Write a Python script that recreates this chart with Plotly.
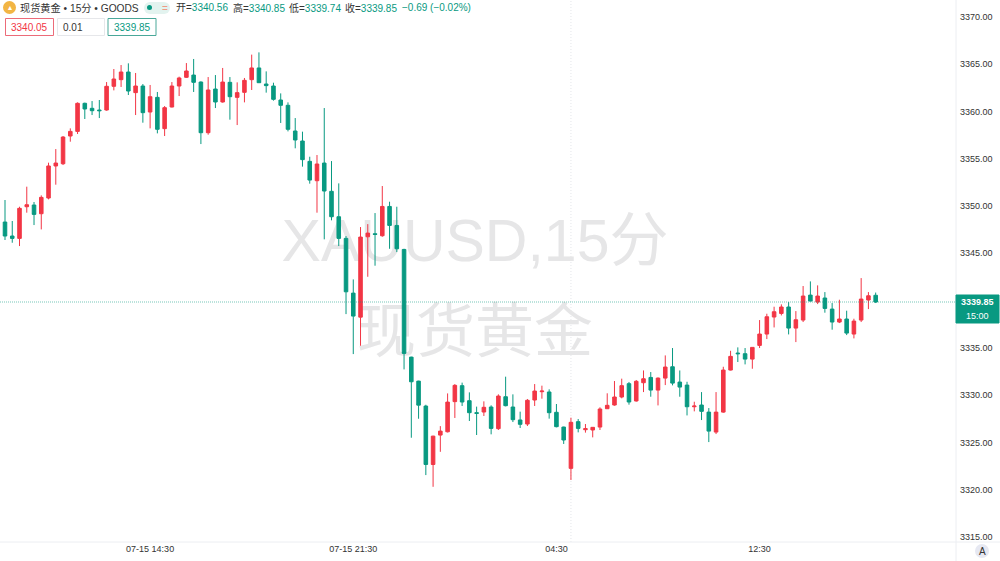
import plotly.graph_objects as go

# 15-minute spot gold bars
opens = [3348.31,3346.83,3346.58,3349.93,3350.11,3349.19,3350.85,3354.24,3354.48,3357.41,
3357.90,3360.87,3360.34,3360.16,3360.16,3362.67,3363.37,3364.18,3362.00,3362.70,
3359.95,3361.50,3358.19,3360.48,3362.70,3363.62,3363.86,3363.12,3357.76,3362.38,
3361.01,3363.09,3361.50,3362.03,3363.37,3364.61,3362.91,3362.70,3361.22,3360.66,
3357.94,3356.88,3354.73,3352.68,3354.55,3351.56,3348.87,3346.58,3340.79,3338.25,
3346.75,3347.07,3346.86,3349.96,3347.95,3345.41,3334.02,3331.48,3328.84,3322.66,
3325.77,3326.12,3329.31,3331.00,3329.41,3328.14,3328.21,3328.74,3326.45,3329.83,
3328.74,3327.37,3326.94,3329.48,3330.36,3330.33,3328.18,3326.62,3322.25,3327.19,
3326.34,3326.31,3326.62,3328.56,3328.95,3329.80,3331.21,3329.38,3331.31,3331.87,
3330.53,3331.80,3333.00,3331.38,3331.06,3328.77,3328.95,3328.20,3326.09,3328.20,
3332.65,3334.45,3334.38,3333.81,3335.26,3336.46,3338.26,3338.64,3339.32,3337.09,
3337.94,3340.58,3339.84,3340.27,3339.10,3337.73,3338.05,3336.46,3337.94,3340.06,
3340.56]
highs = [3350.64,3348.42,3349.93,3352.05,3350.43,3351.13,3354.59,3356.03,3357.41,3358.22,
3360.97,3360.94,3361.11,3361.22,3363.12,3364.50,3364.92,3365.10,3364.08,3362.91,
3362.81,3362.07,3360.58,3363.12,3363.69,3365.13,3365.56,3363.19,3363.65,3363.86,
3364.61,3363.65,3363.09,3363.55,3366.02,3366.26,3364.25,3363.05,3361.92,3360.97,
3359.31,3357.87,3355.22,3355.40,3360.37,3354.76,3352.40,3346.82,3342.24,3347.78,
3348.09,3349.26,3352.12,3350.46,3349.93,3345.48,3334.06,3331.52,3328.98,3325.70,
3326.72,3330.18,3331.17,3331.32,3330.29,3328.78,3329.34,3328.92,3330.08,3331.95,
3330.08,3328.25,3329.59,3331.17,3331.00,3330.61,3329.06,3326.66,3327.61,3327.47,
3326.94,3326.59,3328.71,3330.19,3331.49,3331.74,3331.39,3331.60,3332.61,3332.44,
3331.87,3334.20,3334.98,3332.61,3331.41,3329.30,3330.32,3328.63,3330.32,3333.00,
3334.69,3335.05,3334.98,3335.05,3337.94,3338.61,3339.35,3339.60,3339.84,3338.89,
3341.54,3342.03,3341.61,3340.90,3339.74,3340.09,3338.93,3338.08,3342.38,3340.90,
3340.85]
lows = [3346.41,3346.12,3345.77,3349.30,3347.99,3347.53,3350.71,3352.26,3354.34,3356.81,
3357.62,3359.21,3359.63,3359.31,3360.09,3362.24,3362.60,3361.75,3359.63,3358.82,
3358.22,3357.69,3357.41,3360.44,3361.64,3363.55,3362.07,3356.56,3357.55,3360.37,
3360.94,3359.14,3358.57,3360.97,3362.28,3363.05,3362.00,3361.15,3358.79,3357.90,
3356.11,3354.17,3352.37,3349.30,3346.48,3348.49,3345.77,3338.57,3334.34,3335.22,
3342.52,3343.69,3346.75,3345.48,3345.13,3332.72,3325.49,3327.50,3321.54,3320.30,
3324.00,3326.05,3327.58,3328.85,3327.26,3325.78,3327.79,3325.85,3326.31,3328.81,
3327.15,3326.52,3326.73,3328.85,3329.62,3327.51,3326.59,3324.83,3321.02,3326.06,
3326.03,3325.53,3326.31,3328.53,3328.88,3329.66,3328.99,3329.31,3330.32,3329.83,
3328.91,3331.06,3331.03,3329.83,3327.85,3328.28,3327.36,3325.03,3325.88,3328.13,
3332.61,3333.50,3333.25,3332.79,3334.98,3335.93,3337.16,3338.43,3336.42,3335.61,
3337.73,3339.92,3339.63,3338.72,3336.92,3337.62,3336.35,3336.00,3337.73,3339.10,
3339.74]
closes = [3346.83,3346.58,3349.76,3350.14,3349.12,3350.92,3354.24,3354.55,3357.30,3357.90,
3360.87,3360.27,3360.09,3360.09,3362.67,3363.44,3364.18,3362.17,3362.70,3359.88,
3361.57,3358.12,3360.41,3362.70,3363.55,3364.29,3363.09,3357.76,3362.28,3361.01,
3363.12,3361.57,3362.00,3363.30,3364.61,3363.05,3362.74,3361.29,3360.66,3358.12,
3356.99,3354.91,3352.75,3354.45,3351.59,3348.87,3346.58,3340.93,3338.36,3346.72,
3347.14,3347.00,3349.96,3347.95,3345.48,3334.41,3331.41,3328.94,3322.66,3325.66,
3326.19,3329.26,3331.03,3329.27,3328.14,3328.07,3328.71,3326.48,3329.90,3328.88,
3327.40,3326.91,3329.45,3330.43,3330.43,3328.14,3326.66,3325.25,3327.12,3326.48,
3326.45,3326.59,3328.53,3328.92,3329.80,3331.00,3329.27,3331.46,3331.73,3330.53,
3331.80,3332.97,3331.27,3330.85,3328.77,3328.84,3328.28,3326.19,3328.20,3332.65,
3334.10,3334.38,3333.81,3335.05,3336.46,3338.29,3338.82,3339.32,3337.09,3337.97,
3340.48,3339.95,3340.48,3339.17,3337.73,3338.05,3336.56,3337.83,3340.16,3340.51,
3339.85]
bar_numbers = list(range(len(opens)))

time_tick_bars = [20, 48, 76, 104]
time_tick_labels = ["07-15 14:30", "07-15 21:30", "04:30", "12:30"]
price_ticks = [3315, 3320, 3325, 3330, 3335, 3345, 3350, 3355, 3360, 3365, 3370]
price_tick_labels = ["%.2f" % p for p in price_ticks]
last_price = 3339.85
crosshair_bar = 78

UP = "#F23645"
DOWN = "#089981"
FONT = "Liberation Sans, Noto Sans CJK SC, sans-serif"
W, H = 1000, 561
AXIS_X, AXIS_Y = 956, 542


def px(x):
    return x / W


def py(y):
    return 1 - y / H


fig = go.Figure()
# watermark on the base axes so the candles stay above it
fig.add_trace(go.Scatter(
    x=[0.4969, 0.4969], y=[0.5465, 0.3775], mode="text",
    text=["XAUUSD,15分", "现货黄金"], textposition="middle center",
    textfont=dict(family=FONT, size=59, color="#e6e6e7"),
    hoverinfo="skip", showlegend=False, xaxis="x", yaxis="y"))
fig.add_trace(go.Candlestick(
    x=bar_numbers, open=opens, high=highs, low=lows, close=closes,
    increasing=dict(line=dict(color=UP, width=1), fillcolor=UP),
    decreasing=dict(line=dict(color=DOWN, width=1), fillcolor=DOWN),
    whiskerwidth=0, showlegend=False, xaxis="x2", yaxis="y2"))

shapes = [
    dict(type="line", xref="x2", yref="paper", x0=crosshair_bar, x1=crosshair_bar,
         y0=py(AXIS_Y), y1=1, line=dict(color="#e4e6ea", width=1, dash="1px,2px"), layer="below"),
    dict(type="line", xref="paper", yref="y2", x0=0, x1=px(AXIS_X), y0=last_price, y1=last_price,
         line=dict(color="rgba(8,153,129,0.55)", width=1, dash="1px,1px")),
    dict(type="line", xref="paper", yref="paper", x0=px(AXIS_X), x1=px(AXIS_X), y0=0, y1=1,
         line=dict(color="#eceef2", width=1)),
    dict(type="line", xref="paper", yref="paper", x0=0, x1=1, y0=py(AXIS_Y), y1=py(AXIS_Y),
         line=dict(color="#eceef2", width=1)),
]


def box(x0, y0, x1, y1, line, fill="#ffffff"):
    shapes.append(dict(type="rect", xref="paper", yref="paper", x0=px(x0), x1=px(x1),
                       y0=py(y1), y1=py(y0), line=dict(color=line, width=1), fillcolor=fill))


def circle(x0, y0, x1, y1, fill):
    shapes.append(dict(type="circle", xref="paper", yref="paper", x0=px(x0), x1=px(x1),
                       y0=py(y1), y1=py(y0), line=dict(width=0), fillcolor=fill))


box(5.5, 18.5, 53.5, 35.5, "#ec6b79")
box(57.5, 18.5, 104.5, 35.5, "#e6e7ea")
box(108, 18.5, 156, 35.5, "#4aa899")
box(956, 295, 999, 323, DOWN, DOWN)
circle(3, 1, 16, 14, "#f2b544")
circle(144, 2, 156, 14, "#e3f3ef")
circle(158, 2, 170, 14, "#e3f3ef")
shapes.append(dict(type="rect", xref="paper", yref="paper", x0=px(150), x1=px(164),
                   y0=py(14), y1=py(2), line=dict(width=0), fillcolor="#e3f3ef"))
circle(147, 5, 152, 10, DOWN)
circle(975, 544, 989, 558, "#e6e8f2")


def label(x, y, text, color="#333333", size=10, anchor="left"):
    fig.add_annotation(xref="paper", yref="paper", x=px(x), y=py(y), text=text,
                       showarrow=False, xanchor=anchor, yanchor="middle",
                       font=dict(family=FONT, size=size, color=color),
                       borderpad=0, borderwidth=0)


label(20, 7.5, "现货黄金 • 15分 • GOODS", size=10.2)
label(162, 8, "=", color="#ee9a85", size=10)
label(9.5, 7.5, "▴", color="#ffffff", size=8, anchor="center")
readout = [("开=", "3340.56", 176), ("高=", "3340.85", 233), ("低=", "3339.74", 289), ("收=", "3339.85", 345)]
for tag, value, x in readout:
    label(x, 7.5, '%s<span style="color:%s">%s</span>' % (tag, DOWN, value))
label(401.5, 7.5, "−0.69 (−0.02%)", color=DOWN)
label(29.5, 27.5, "3340.05", color=UP, anchor="center")
label(63, 27.5, "0.01", color="#333333")
label(132, 27.5, "3339.85", color=DOWN, anchor="center")
label(977.5, 302, "<b>3339.85</b>", color="#ffffff", size=9, anchor="center")
label(977.5, 316, "15:00", color="#ffffff", size=9, anchor="center")
label(982, 551.5, "A", color="#333333", size=10, anchor="center")

fig.update_layout(
    width=W, height=H, autosize=False,
    margin=dict(l=0, r=0, t=0, b=0, pad=0),
    paper_bgcolor="#ffffff", plot_bgcolor="#ffffff",
    showlegend=False, shapes=shapes, hovermode=False,
    font=dict(family=FONT, size=9, color="#333333"),
    xaxis=dict(domain=[0, AXIS_X / W], range=[0, 1], visible=False, fixedrange=True),
    yaxis=dict(domain=[1 - AXIS_Y / H, 1], range=[0, 1], visible=False, fixedrange=True),
    xaxis2=dict(overlaying="x", anchor="y2", side="bottom", range=[-0.689, 131.07],
                tickmode="array", tickvals=time_tick_bars, ticktext=time_tick_labels,
                showgrid=False, zeroline=False, showline=False, ticks="", rangeslider=dict(visible=False),
                tickfont=dict(family=FONT, size=9, color="#333333"), fixedrange=True),
    yaxis2=dict(overlaying="y", anchor="x2", side="right", range=[3314.46, 3371.80],
                tickmode="array", tickvals=price_ticks, ticktext=price_tick_labels,
                showgrid=False, zeroline=False, showline=False, ticks="", ticklabelstandoff=3,
                tickfont=dict(family=FONT, size=9, color="#333333"), fixedrange=True),
)

fig.write_html("out.html", config=dict(displayModeBar=False),
               post_script="document.body.style.margin='0';")
